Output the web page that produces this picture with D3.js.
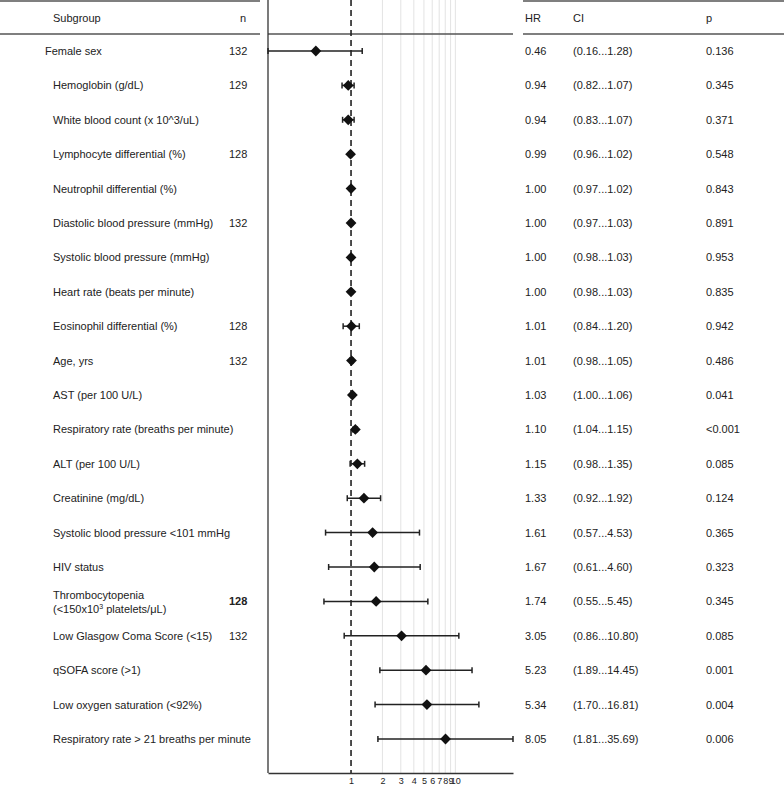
<!DOCTYPE html>
<html>
<head>
<meta charset="utf-8">
<script src="https://d3js.org/d3.v7.min.js"></script>
<style>
  body { margin: 0; background: #fff; }
  text { font-family: "Liberation Sans", Arial, sans-serif; fill: #222; }
</style>
</head>
<body>
<div id="chart"></div>
<script>
// subgroups, top to bottom
var labels = ["Female sex", "Hemoglobin (g/dL)", "White blood count (x 10^3/uL)",
  "Lymphocyte differential (%)", "Neutrophil differential (%)", "Diastolic blood pressure (mmHg)",
  "Systolic blood pressure (mmHg)", "Heart rate (beats per minute)", "Eosinophil differential (%)",
  "Age, yrs", "AST (per 100 U/L)", "Respiratory rate (breaths per minute)", "ALT (per 100 U/L)",
  "Creatinine (mg/dL)", "Systolic blood pressure <101 mmHg", "HIV status", "Thrombocytopenia",
  "Low Glasgow Coma Score (<15)", "qSOFA score (>1)", "Low oxygen saturation (<92%)",
  "Respiratory rate > 21 breaths per minute"];
var nVals = ["132", "129", "", "128", "", "132", "", "", "128", "132", "", "", "", "", "", "", "128", "132", "", "", ""];
var hr    = [0.46, 0.94, 0.94, 0.99, 1.00, 1.00, 1.00, 1.00, 1.01, 1.01, 1.03, 1.10, 1.15, 1.33, 1.61, 1.67, 1.74, 3.05, 5.23, 5.34, 8.05];
var lower = [0.16, 0.82, 0.83, 0.96, 0.97, 0.97, 0.98, 0.98, 0.84, 0.98, 1.00, 1.04, 0.98, 0.92, 0.57, 0.61, 0.55, 0.86, 1.89, 1.70, 1.81];
var upper = [1.28, 1.07, 1.07, 1.02, 1.02, 1.03, 1.03, 1.03, 1.20, 1.05, 1.06, 1.15, 1.35, 1.92, 4.53, 4.60, 5.45, 10.80, 14.45, 16.81, 35.69];
var pVals = ["0.136", "0.345", "0.371", "0.548", "0.843", "0.891", "0.953", "0.835", "0.942", "0.486", "0.041",
  "<0.001", "0.085", "0.124", "0.365", "0.323", "0.345", "0.085", "0.001", "0.004", "0.006"];
var ticks = [1, 2, 3, 4, 5, 6, 7, 8, 9, 10];
var gridVals = [2, 3, 4, 5, 6, 7, 8, 9, 10];

var width = 784, height = 788;
var svg = d3.select("#chart").append("svg")
  .attr("width", width).attr("height", height);

var x = d3.scaleLog().domain([d3.min(lower), d3.max(upper)]).range([268, 513]);
var y = d3.scalePoint().domain(d3.range(labels.length)).range([51, 739]);
var axisY = 773;

function fmt(v) { return v.toFixed(2); }

// grid lines
svg.selectAll(".grid").data(gridVals).enter().append("line")
  .attr("x1", d => x(d)).attr("x2", d => x(d))
  .attr("y1", 0).attr("y2", axisY)
  .attr("stroke", "#e3e3e3").attr("stroke-width", 1);

// table rules
var rules = [[0, 260, 1], [0, 260, 34], [268, 513, 34], [523, 784, 1], [523, 784, 34]];
svg.selectAll(".rule").data(rules).enter().append("line")
  .attr("x1", d => d[0]).attr("x2", d => d[1])
  .attr("y1", d => d[2]).attr("y2", d => d[2])
  .attr("stroke", "#555").attr("stroke-width", 1.3);

// left border of plot
svg.append("line").attr("x1", 268).attr("x2", 268).attr("y1", 0).attr("y2", axisY)
  .attr("stroke", "#333").attr("stroke-width", 1.3);

// reference line at 1
svg.append("line").attr("x1", x(1)).attr("x2", x(1)).attr("y1", 0).attr("y2", axisY)
  .attr("stroke", "#222").attr("stroke-width", 1.6).attr("stroke-dasharray", "6,4");

// x axis
var axis = d3.axisBottom(x).tickValues(ticks).tickFormat(d3.format("d")).tickSize(0).tickPadding(5);
var gAx = svg.append("g").attr("transform", "translate(0," + axisY + ")").call(axis);
gAx.select(".domain").attr("stroke", "#333").attr("stroke-width", 1.3);
gAx.selectAll("text").style("font-size", "9px").attr("fill", "#222")
  .style("font-family", "'Liberation Sans', Arial, sans-serif");

// headers
var hdr = [["Subgroup", 53], ["n", 240], ["HR", 525], ["CI", 573], ["p", 706]];
svg.selectAll(".hdr").data(hdr).enter().append("text")
  .attr("x", d => d[1]).attr("y", 22).style("font-size", "11px").text(d => d[0]);

var rows = svg.selectAll(".row").data(labels).enter().append("g");

rows.append("text")
  .attr("x", (d, i) => i === 0 ? 45 : 53)
  .attr("y", (d, i) => y(i) + 4 - (i === 16 ? 6 : 0))
  .style("font-size", "11px")
  .text(d => d);

// second line of thrombocytopenia label with superscript
var t2 = svg.append("text").attr("x", 53).attr("y", y(16) + 12).style("font-size", "11px");
t2.append("tspan").text("(<150x10");
t2.append("tspan").attr("dy", -4).style("font-size", "7px").text("3");
t2.append("tspan").attr("dy", 4).text(" platelets/\u03bcL)");

rows.append("text")
  .attr("x", 229).attr("y", (d, i) => y(i) + 4)
  .style("font-size", "11px")
  .style("font-weight", (d, i) => i === 16 ? "bold" : "normal")
  .text((d, i) => nVals[i]);

rows.append("text").attr("x", 525).attr("y", (d, i) => y(i) + 4)
  .style("font-size", "11px").text((d, i) => fmt(hr[i]));
rows.append("text").attr("x", 573).attr("y", (d, i) => y(i) + 4)
  .style("font-size", "11px").text((d, i) => "(" + fmt(lower[i]) + "..." + fmt(upper[i]) + ")");
rows.append("text").attr("x", 706).attr("y", (d, i) => y(i) + 4)
  .style("font-size", "11px").text((d, i) => pVals[i]);

// error bars
rows.append("line")
  .attr("x1", (d, i) => x(lower[i])).attr("x2", (d, i) => x(upper[i]))
  .attr("y1", (d, i) => y(i)).attr("y2", (d, i) => y(i))
  .attr("stroke", "#222").attr("stroke-width", 1.5);
rows.append("line")
  .attr("x1", (d, i) => x(lower[i])).attr("x2", (d, i) => x(lower[i]))
  .attr("y1", (d, i) => y(i) - 3).attr("y2", (d, i) => y(i) + 3)
  .attr("stroke", "#222").attr("stroke-width", 1.5);
rows.append("line")
  .attr("x1", (d, i) => x(upper[i])).attr("x2", (d, i) => x(upper[i]))
  .attr("y1", (d, i) => y(i) - 3).attr("y2", (d, i) => y(i) + 3)
  .attr("stroke", "#222").attr("stroke-width", 1.5);

// diamonds
rows.append("path")
  .attr("d", d3.symbol().type(d3.symbolSquare).size(58))
  .attr("transform", (d, i) => "translate(" + x(hr[i]) + "," + y(i) + ") rotate(45)")
  .attr("fill", "#111");
</script>
</body>
</html>
